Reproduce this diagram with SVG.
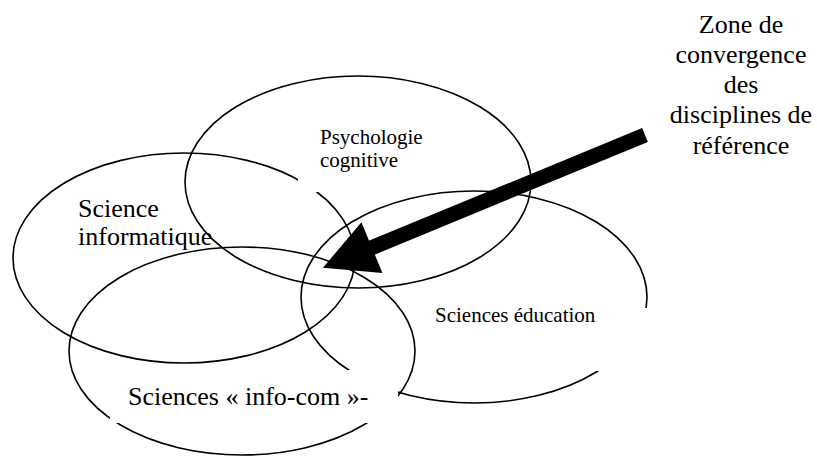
<svg xmlns="http://www.w3.org/2000/svg" width="817" height="457" viewBox="0 0 817 457">
  <style>
    .ell { fill: none; stroke: #000; stroke-width: 1.6; }
    .mask { fill: #fff; stroke: none; }
    text { font-family: 'Liberation Serif', 'DejaVu Serif', serif; fill: #000; }
    .t21 { font-size: 21px; }
    .t26 { font-size: 26px; }
  </style>
  <defs>
    <marker id="head" markerUnits="userSpaceOnUse" markerWidth="60" markerHeight="60" refX="1" refY="27.5" orient="auto" overflow="visible">
      <path d="M0,0 L53,27.5 L0,55 Z" fill="#000"/>
    </marker>
  </defs>
  <rect width="817" height="457" fill="#fff"/>

  <g id="psychologie">
    <ellipse class="ell" cx="358" cy="182" rx="173" ry="106"/>
  </g>
  <g id="informatique">
    <ellipse class="ell" cx="184" cy="258" rx="171" ry="105"/>
  </g>
  <g id="education">
    <ellipse class="ell" cx="474" cy="297" rx="173" ry="106"/>
  </g>
  <g id="infocom">
    <ellipse class="ell" cx="242" cy="351" rx="173" ry="104"/>
  </g>

  <!-- white label boxes that hide parts of the outlines -->
  <rect class="mask" x="298" y="130" width="127" height="62"/>
  <rect class="mask" x="425" y="308" width="224" height="63"/>
  <rect class="mask" x="110" y="370" width="288" height="53"/>

  <g id="connectors">
    <line x1="645" y1="135" x2="371" y2="248" stroke="#000" stroke-width="15" marker-end="url(#head)"/>
  </g>

  <g id="label-psychologie">
    <text class="t21" x="320" y="144" font-family="Liberation Serif, serif">Psychologie</text>
    <text class="t21" x="320" y="167" font-family="Liberation Serif, serif">cognitive</text>
  </g>
  <g id="label-informatique">
    <text class="t26" x="78" y="217">Science</text>
    <text class="t26" x="78" y="245">informatique</text>
  </g>
  <g id="label-education">
    <text class="t21" x="435" y="322">Sciences éducation</text>
  </g>
  <g id="label-infocom">
    <text class="t26" x="128" y="405">Sciences « info-com »-</text>
  </g>
  <g id="label-zone">
    <text class="t26" x="741" y="33" text-anchor="middle">Zone de</text>
    <text class="t26" x="741" y="63" text-anchor="middle">convergence</text>
    <text class="t26" x="741" y="93" text-anchor="middle">des</text>
    <text class="t26" x="741" y="123" text-anchor="middle">disciplines de</text>
    <text class="t26" x="741" y="154" text-anchor="middle">référence</text>
  </g>
</svg>
